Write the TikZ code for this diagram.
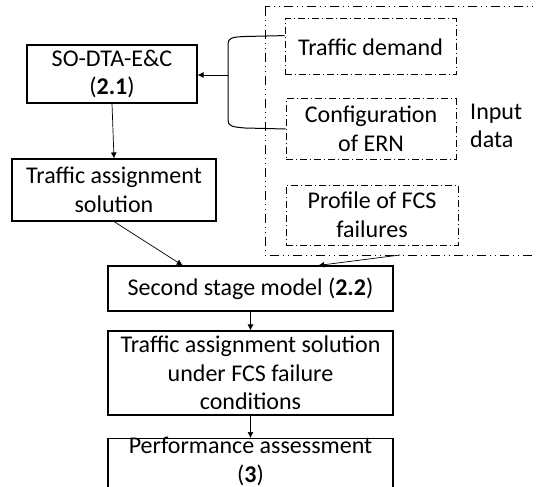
\documentclass[tikz,border=0pt]{standalone}
\usepackage{fontspec}
\setmainfont{Carlito}
\usetikzlibrary{arrows.meta,calc}
\begin{document}
\begin{tikzpicture}[x=1pt,y=-1pt,
  every node/.style={font=\fontsize{24}{28.5}\selectfont, align=center, inner sep=0pt},
  box/.style={draw, line width=1.1pt},
  inbox/.style={draw, line width=1pt, dash pattern=on 7pt off 3pt on 1pt off 3pt},
  groupbox/.style={draw, line width=1pt, dash pattern=on 9pt off 4pt on 1pt off 4pt on 1pt off 4pt},
  conn/.style={line width=0.7pt, -{Latex[length=6pt,width=6pt]}},
  link/.style={line width=1pt}]
\useasboundingbox (0,0) rectangle (536,487);
\clip (0,0) rectangle (536,487);

% input data group
\draw[groupbox] (265,7) rectangle (560,255);
\node[inbox, minimum width=171pt, minimum height=56pt] (td) at (370.5,47) {Traffic demand};
\node[inbox, minimum width=170pt, minimum height=60pt] (cfg) at (371,129) {Configuration\\of ERN};
\node[inbox, minimum width=172pt, minimum height=60pt] (pf) at (372,215) {Profile of FCS\\failures};
\node[anchor=west, align=left] (inp) at (470,126) {Input\\data};

% flow chart
\node[box, minimum width=170pt, minimum height=58pt] (so) at (112,74) {SO-DTA-E\&C\\(\textbf{2.1})};
\node[box, minimum width=204pt, minimum height=62pt] (ts) at (114,190) {Traffic assignment\\solution};
\node[box, minimum width=285pt, minimum height=45pt] (ss) at (250.5,288.5) {Second stage model (\textbf{2.2})};
\node[box, minimum width=285pt, minimum height=84pt] (fa) at (250.5,373) {Traffic assignment solution\\under FCS failure\\conditions};
\node[box, minimum width=285pt, minimum height=62pt, anchor=north] (pa) at (250.5,438) {};
\node (pat) at (250.5,461.5) {Performance assessment\\(\textbf{3})};

% bracket collecting the inputs
\coordinate (bt) at ($(td.north west)!0.3!(td.south west)$);
\coordinate (bm) at (228,75);
\coordinate (gb) at (400,255);
\draw[link] (bt) -- (245,36.5) .. controls (232,37) and (228,38) .. (228,44)
  -- (228,120) .. controls (228,126) and (232,127) .. (245,128) -- (cfg.west);
\draw[conn] (bm) -- (so.east |- bm);

% connectors
\draw[conn] (so.south) -- (ts.north);
\draw[conn] (ts.south) -- ($(ss.north west)!0.263!(ss.north east)$);
\draw[conn] (gb) -- ($(ss.north west)!0.737!(ss.north east)$);
\draw[conn] (ss.south) -- (fa.north);
\draw[conn] (fa.south) -- (pa.north);
\end{tikzpicture}
\end{document}
